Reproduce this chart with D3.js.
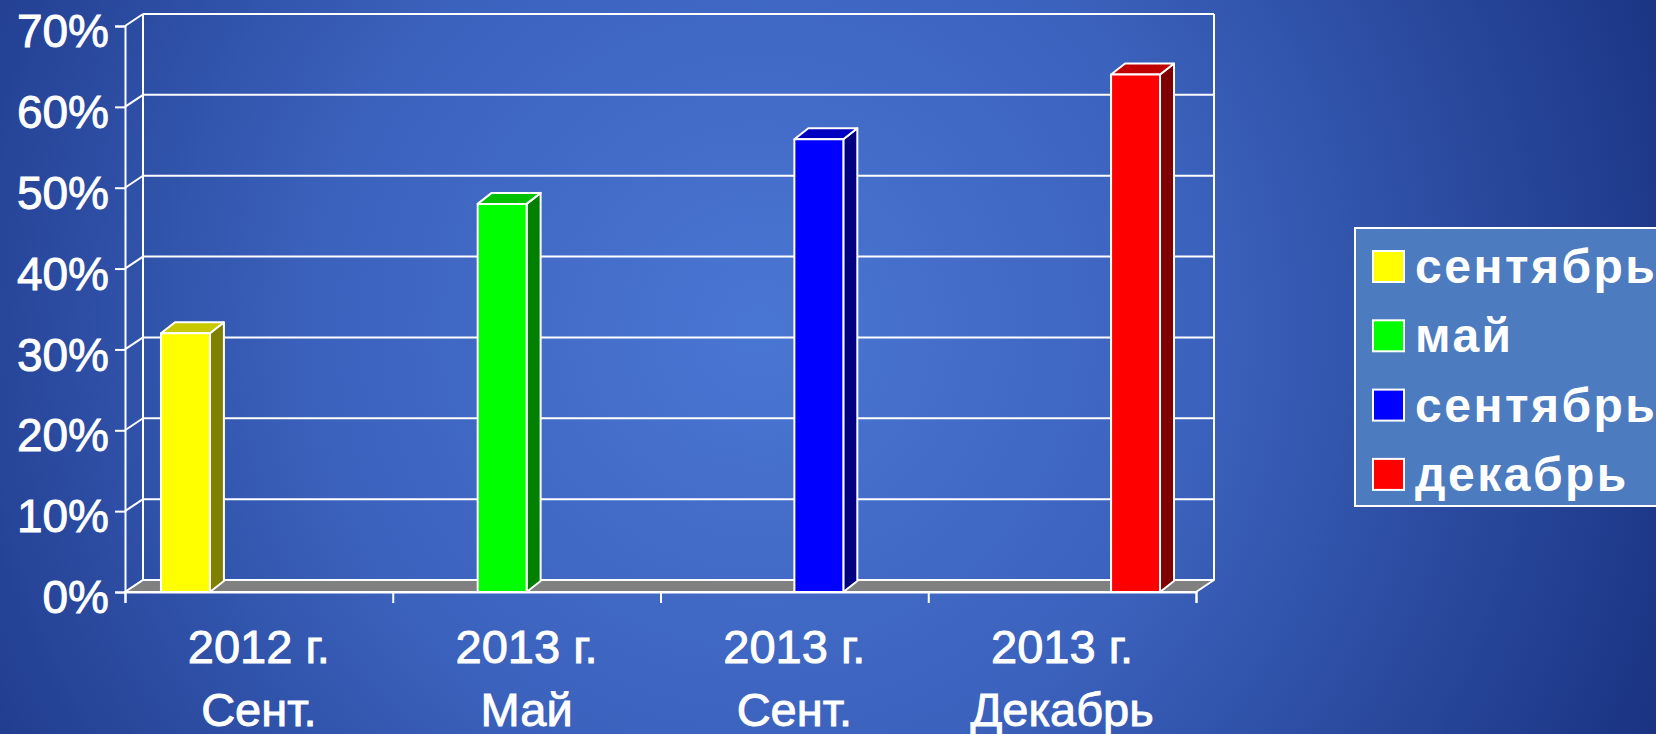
<!DOCTYPE html>
<html>
<head>
<meta charset="utf-8">
<script src="https://cdn.jsdelivr.net/npm/d3@7"></script>
<style>
  html, body { margin: 0; padding: 0; overflow: hidden; }
  svg { display: block; }
  text { font-family: "Liberation Sans", Arial, sans-serif; fill: #fff; }
</style>
</head>
<body>
<svg width="1656" height="734"></svg>
<script>
// chart data
const catYears = ["2012 г.", "2013 г.", "2013 г.", "2013 г."];
const catMonths = ["Сент.", "Май", "Сент.", "Декабрь"];
const seriesNames = ["сентябрь", "май", "сентябрь", "декабрь"];
const seriesValues = [32, 48, 56, 64];
const yTicks = [0, 10, 20, 30, 40, 50, 60, 70];

// colours: front, side, top
const colFront = ["#ffff00", "#00ff00", "#0000ff", "#ff0000"];
const colSide = ["#808000", "#008000", "#000080", "#800000"];
const colTop = ["#c8c800", "#00c000", "#0000c0", "#c00000"];

const svg = d3.select("svg");
const W = 1656, H = 734;

// background gradient
const defs = svg.append("defs");
const bg = defs.append("radialGradient")
  .attr("id", "bg")
  .attr("gradientUnits", "userSpaceOnUse")
  .attr("cx", 760).attr("cy", 330).attr("r", 980);
bg.append("stop").attr("offset", "0").attr("stop-color", "#4a76d3");
bg.append("stop").attr("offset", "0.45").attr("stop-color", "#3b62bd");
bg.append("stop").attr("offset", "1").attr("stop-color", "#1a3382");

svg.append("rect").attr("width", W).attr("height", H).attr("fill", "url(#bg)");

// geometry
const plotL = 125, plotR = 1196, plotB = 592, plotT = 26;
const wallDx = 18, wallDy = -12;   // depth of back wall
const barDx = 14, barDy = -11;     // depth of bars

const x = d3.scaleBand()
  .domain(d3.range(catYears.length))
  .range([plotL, plotR]);

const xs = d3.scaleBand()
  .domain(d3.range(seriesNames.length))
  .range([0, x.bandwidth()])
  .paddingOuter(0.735);

const y = d3.scaleLinear()
  .domain([0, 70])
  .range([plotB, plotT]);

const grid = svg.append("g")
  .attr("stroke", "#fff")
  .attr("stroke-width", 2)
  .attr("fill", "none");

// back wall gridlines
grid.selectAll(".gl")
  .data(yTicks)
  .enter()
  .append("line")
  .attr("x1", plotL + wallDx)
  .attr("x2", plotR + wallDx)
  .attr("y1", d => y(d) + wallDy)
  .attr("y2", d => y(d) + wallDy);

// left wall diagonals
grid.selectAll(".dg")
  .data(yTicks)
  .enter()
  .append("line")
  .attr("x1", plotL)
  .attr("x2", plotL + wallDx)
  .attr("y1", d => y(d))
  .attr("y2", d => y(d) + wallDy);

// wall verticals
grid.append("line")
  .attr("x1", plotL + wallDx).attr("x2", plotL + wallDx)
  .attr("y1", y(70) + wallDy).attr("y2", y(0) + wallDy);
grid.append("line")
  .attr("x1", plotR + wallDx).attr("x2", plotR + wallDx)
  .attr("y1", y(70) + wallDy).attr("y2", y(0) + wallDy);

// floor
svg.append("path")
  .attr("d", `M${plotL},${y(0)} L${plotR},${y(0)} L${plotR + wallDx},${y(0) + wallDy} L${plotL + wallDx},${y(0) + wallDy} Z`)
  .attr("fill", "#808080")
  .attr("stroke", "#fff")
  .attr("stroke-width", 2)
  .attr("stroke-linejoin", "round");

// bars
const bars = svg.selectAll(".bar")
  .data(seriesValues)
  .enter()
  .append("g")
  .attr("class", "bar")
  .attr("stroke", "#fff")
  .attr("stroke-width", 2)
  .attr("stroke-linejoin", "round");

const bx = (d, i) => x(i) + xs(i);
const bw = xs.bandwidth();

bars.append("path")
  .attr("fill", (d, i) => colSide[i])
  .attr("d", (d, i) => {
    const x0 = bx(d, i) + bw;
    return `M${x0},${y(0)} L${x0},${y(d)} L${x0 + barDx},${y(d) + barDy} L${x0 + barDx},${y(0) + barDy} Z`;
  });

bars.append("path")
  .attr("fill", (d, i) => colTop[i])
  .attr("d", (d, i) => {
    const x0 = bx(d, i);
    return `M${x0},${y(d)} L${x0 + bw},${y(d)} L${x0 + bw + barDx},${y(d) + barDy} L${x0 + barDx},${y(d) + barDy} Z`;
  });

bars.append("rect")
  .attr("fill", (d, i) => colFront[i])
  .attr("x", bx)
  .attr("y", d => y(d))
  .attr("width", bw)
  .attr("height", d => y(0) - y(d));

// front axes
const yAxis = d3.axisLeft(y)
  .tickValues(yTicks)
  .tickSize(10)
  .tickFormat(d => d + "%");

const yg = svg.append("g")
  .attr("transform", `translate(${plotL},0)`)
  .call(yAxis);
yg.select(".domain").attr("stroke", "#fff").attr("stroke-width", 2);
yg.selectAll(".tick line").attr("stroke", "#fff").attr("stroke-width", 2);
yg.selectAll(".tick text")
  .attr("x", -16)
  .attr("dy", "0.45em")
  .attr("fill", "#fff")
  .attr("stroke", "#fff")
  .attr("stroke-width", 0.9)
  .style("font-size", "46px")
  .style("font-family", "'Liberation Sans', Arial, sans-serif");

const xAxis = d3.axisBottom(d3.scaleLinear().domain([0, catYears.length]).range([plotL, plotR]))
  .ticks(catYears.length)
  .tickSize(11)
  .tickFormat("");

const xg = svg.append("g")
  .attr("transform", `translate(0,${plotB})`)
  .call(xAxis);
xg.select(".domain").attr("stroke", "#fff").attr("stroke-width", 2);
xg.selectAll(".tick line").attr("stroke", "#fff").attr("stroke-width", 2);

// category labels
const catLabels = svg.selectAll(".cat")
  .data(catYears)
  .enter()
  .append("text")
  .attr("class", "cat")
  .attr("text-anchor", "middle")
  .attr("stroke", "#fff")
  .attr("stroke-width", 0.9)
  .style("font-size", "47px");

catLabels.append("tspan")
  .attr("x", (d, i) => x(i) + x.bandwidth() / 2)
  .attr("y", 663)
  .text(d => d);

catLabels.append("tspan")
  .attr("x", (d, i) => x(i) + x.bandwidth() / 2)
  .attr("y", 726)
  .text((d, i) => catMonths[i]);

// legend
const legend = svg.append("g");
legend.append("rect")
  .attr("x", 1355)
  .attr("y", 228)
  .attr("width", 330)
  .attr("height", 278)
  .attr("fill", "#4c7bbf")
  .attr("stroke", "#fff")
  .attr("stroke-width", 2);

const li = legend.selectAll(".li")
  .data(seriesNames)
  .enter()
  .append("g")
  .attr("transform", (d, i) => `translate(1373,${251 + i * 69.3})`);

li.append("rect")
  .attr("width", 31)
  .attr("height", 31)
  .attr("fill", (d, i) => colFront[i])
  .attr("stroke", "#fff")
  .attr("stroke-width", 2);

li.append("text")
  .attr("x", 42)
  .attr("y", 32)
  .style("font-size", "48px")
  .style("font-weight", "bold")
  .style("letter-spacing", "2.5px")
  .text(d => d);
</script>
</body>
</html>
